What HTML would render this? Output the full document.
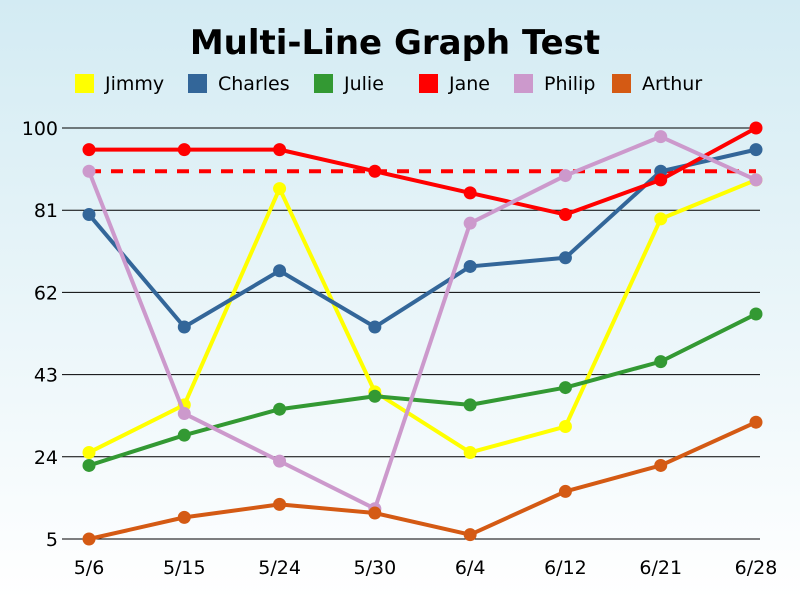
<!DOCTYPE html>
<html><head><meta charset="utf-8"><style>
html,body{margin:0;padding:0}
body{width:800px;height:600px;background:linear-gradient(#d3ebf3,#ffffff);font-family:"Liberation Sans","DejaVu Sans",sans-serif;overflow:hidden}
svg{display:block}
</style></head><body>
<svg id="chart" width="800" height="600" xmlns="http://www.w3.org/2000/svg">
<text x="395" y="54" text-anchor="middle" font-size="34" font-weight="bold" font-family="DejaVu Sans, sans-serif">Multi-Line Graph Test</text>
<g id="legend"></g>
<g id="grid"></g>
<g id="series"></g>
</svg>
<script>
const categories=["5/6","5/15","5/24","5/30","6/4","6/12","6/21","6/28"];
const yTicks=[5,24,43,62,81,100];
const seriesNames=["Jimmy","Charles","Julie","Jane","Philip","Arthur"];
const seriesColors=["#ffff00","#336699","#339933","#ff0000","#cc99cc","#d45a14"];
const jimmy=[25,36,86,39,25,31,79,88];
const charles=[80,54,67,54,68,70,90,95];
const julie=[22,29,35,38,36,40,46,57];
const jane=[95,95,95,90,85,80,88,100];
const philip=[90,34,23,12,78,89,98,88];
const arthur=[5,10,13,11,6,16,22,32];
const targetLine=90;
const seriesData=[jimmy,charles,julie,jane,philip,arthur];

const NS="http://www.w3.org/2000/svg";
const x0=89,x1=756,yTop=128,yBot=539,yMin=5,yMax=100;
const xs=i=>x0+i*(x1-x0)/(categories.length-1);
const ys=v=>yBot-(v-yMin)*(yBot-yTop)/(yMax-yMin);
function mk(tag,attrs,parent){const e=document.createElementNS(NS,tag);for(const k in attrs)e.setAttribute(k,attrs[k]);parent.appendChild(e);return e;}
const grid=document.getElementById('grid');
yTicks.forEach(t=>{
  const l=mk('line',{x1:62,x2:760,y1:ys(t),y2:ys(t),stroke:'#000','stroke-width':1},grid);
  
  
  const tx=mk('text',{x:58,y:ys(t)+7,'text-anchor':'end','font-size':19,'font-family':'DejaVu Sans, sans-serif'},grid);
  tx.textContent=t;
  
  
});
categories.forEach((c,i)=>{
  const tx=mk('text',{x:xs(i),y:574,'text-anchor':'middle','font-size':19,'font-family':'DejaVu Sans, sans-serif'},grid);
  tx.textContent=c;
  
  
});
const ser=document.getElementById('series');
const dl=mk('line',{x1:x0,x2:x1,y1:ys(targetLine),y2:ys(targetLine),stroke:'#ff0000','stroke-width':4,'stroke-dasharray':'12,10'},ser);


seriesData.forEach((d,s)=>{
  const g=mk('g',{},ser);
  
  
  const pl=mk('polyline',{points:d.map((v,i)=>xs(i)+','+ys(v)).join(' '),fill:'none',stroke:seriesColors[s],'stroke-width':4,'stroke-linejoin':'round'},g);
  
  
  d.forEach((v,i)=>{
    const c=mk('circle',{cx:xs(i),cy:ys(v),r:6.5,fill:seriesColors[s]},g);
    
    
  });
});
const lg=document.getElementById('legend');
const lx=[75,188,314,419,514,612];
seriesNames.forEach((n,i)=>{
  const g=mk('g',{},lg);
  
  
  mk('rect',{x:lx[i],y:74,width:19,height:19,fill:seriesColors[i]},g);
  const t=mk('text',{x:lx[i]+30,y:90,'font-size':19,'font-family':'DejaVu Sans, sans-serif'},g);
  t.textContent=n;
});
</script>
</body></html>
